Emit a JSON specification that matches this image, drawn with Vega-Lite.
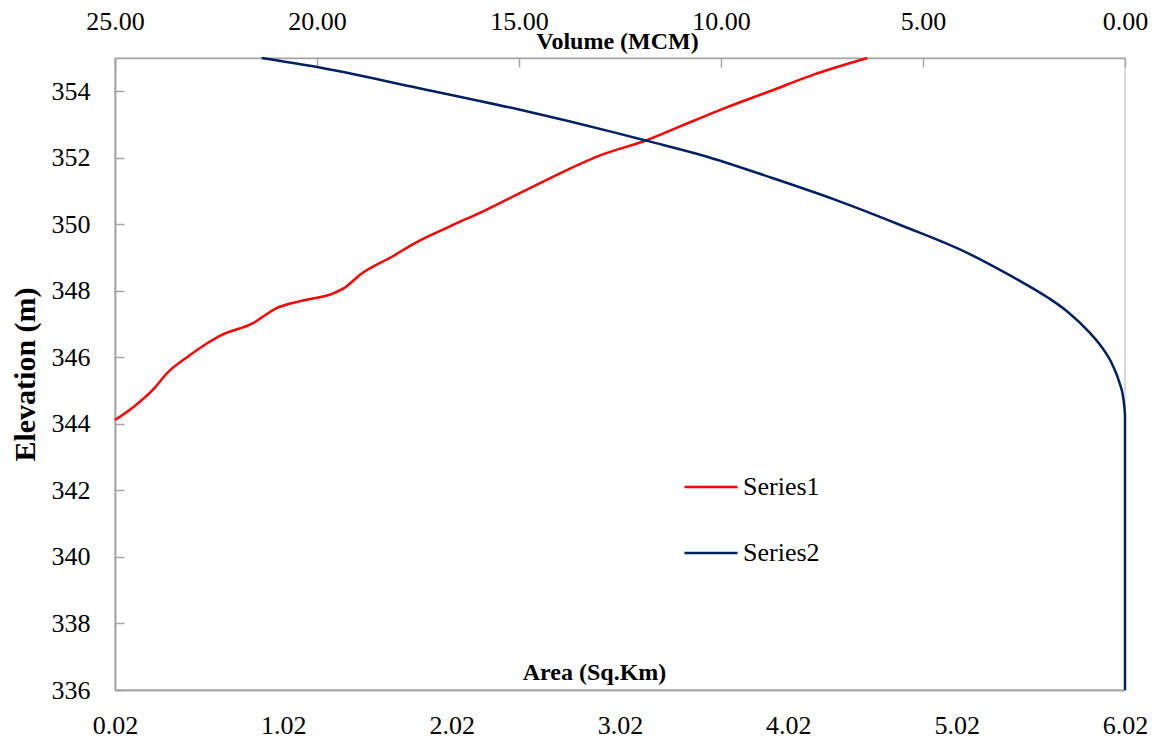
{
  "$schema": "https://vega.github.io/schema/vega-lite/v6.json",
  "autosize": {"type": "none"},
  "padding": {"left": 115, "top": 58, "right": 33, "bottom": 50},
  "width": 1010,
  "height": 632,
  "background": "white",
  "data": {
    "values": [
      {"series": "Series1", "elevation": 344.12, "value": 0.02},
      {"series": "Series1", "elevation": 344.51, "value": 0.13},
      {"series": "Series1", "elevation": 345.05, "value": 0.25},
      {"series": "Series1", "elevation": 345.53, "value": 0.33},
      {"series": "Series1", "elevation": 346.01, "value": 0.45},
      {"series": "Series1", "elevation": 346.43, "value": 0.57},
      {"series": "Series1", "elevation": 346.64, "value": 0.64},
      {"series": "Series1", "elevation": 347.03, "value": 0.84},
      {"series": "Series1", "elevation": 347.48, "value": 0.98},
      {"series": "Series1", "elevation": 347.69, "value": 1.12},
      {"series": "Series1", "elevation": 347.93, "value": 1.32},
      {"series": "Series1", "elevation": 348.08, "value": 1.38},
      {"series": "Series1", "elevation": 348.5, "value": 1.48},
      {"series": "Series1", "elevation": 349.04, "value": 1.67},
      {"series": "Series1", "elevation": 349.46, "value": 1.81},
      {"series": "Series1", "elevation": 349.94, "value": 2.01},
      {"series": "Series1", "elevation": 350.4, "value": 2.21},
      {"series": "Series1", "elevation": 350.95, "value": 2.43},
      {"series": "Series1", "elevation": 351.45, "value": 2.63},
      {"series": "Series1", "elevation": 352.05, "value": 2.89},
      {"series": "Series1", "elevation": 352.55, "value": 3.19},
      {"series": "Series1", "elevation": 352.95, "value": 3.38},
      {"series": "Series1", "elevation": 353.45, "value": 3.62},
      {"series": "Series1", "elevation": 354.0, "value": 3.91},
      {"series": "Series1", "elevation": 354.5, "value": 4.17},
      {"series": "Series1", "elevation": 355.0, "value": 4.49},
      {"series": "Series2", "elevation": 336.0, "value": 0},
      {"series": "Series2", "elevation": 344.25, "value": 0},
      {"series": "Series2", "elevation": 344.75, "value": 0.04},
      {"series": "Series2", "elevation": 345.25, "value": 0.14},
      {"series": "Series2", "elevation": 345.75, "value": 0.3},
      {"series": "Series2", "elevation": 346.35, "value": 0.6},
      {"series": "Series2", "elevation": 346.75, "value": 0.88},
      {"series": "Series2", "elevation": 347.35, "value": 1.4},
      {"series": "Series2", "elevation": 347.75, "value": 1.85},
      {"series": "Series2", "elevation": 348.05, "value": 2.25},
      {"series": "Series2", "elevation": 348.6, "value": 3.05},
      {"series": "Series2", "elevation": 349.15, "value": 3.92},
      {"series": "Series2", "elevation": 349.95, "value": 5.5},
      {"series": "Series2", "elevation": 350.75, "value": 7.2},
      {"series": "Series2", "elevation": 351.4, "value": 8.75},
      {"series": "Series2", "elevation": 352.07, "value": 10.45},
      {"series": "Series2", "elevation": 352.5, "value": 11.8},
      {"series": "Series2", "elevation": 352.75, "value": 12.6},
      {"series": "Series2", "elevation": 353.45, "value": 15.0},
      {"series": "Series2", "elevation": 354.1, "value": 17.5},
      {"series": "Series2", "elevation": 354.75, "value": 20.1},
      {"series": "Series2", "elevation": 355.0, "value": 21.37}
    ]
  },
  "encoding": {
    "y": {
      "field": "elevation",
      "type": "quantitative",
      "scale": {"domain": [336, 355], "nice": false, "zero": false},
      "axis": {
        "title": "Elevation (m)",
        "values": [336, 338, 340, 342, 344, 346, 348, 350, 352, 354],
        "tickSize": -9,
        "labelPadding": 34,
        "labelFont": "Liberation Serif",
        "titleFontSize": 30,
        "titleX": -90,
        "titleBaseline": "middle",
        "titleAngle": -90
      }
    },
    "color": {
      "field": "series",
      "type": "nominal",
      "scale": {"domain": ["Series1", "Series2"], "range": ["#ff0000", "#002060"]},
      "legend": {
        "title": null,
        "orient": "none",
        "legendX": 568,
        "legendY": 401,
        "symbolType": "stroke",
        "symbolSize": 2809,
        "symbolStrokeWidth": 2.5,
        "labelFont": "Liberation Serif",
        "labelFontSize": 26,
        "labelColor": "black",
        "labelOffset": 4,
        "rowPadding": 25,
        "padding": 0
      }
    },
    "order": {"field": "elevation", "type": "quantitative"}
  },
  "layer": [
    {
      "transform": [{"filter": "datum.series === 'Series1'"}],
      "mark": {"type": "line", "interpolate": "monotone", "orient": "horizontal", "strokeWidth": 2.5},
      "encoding": {
        "x": {
          "field": "value",
          "type": "quantitative",
          "scale": {"domain": [0.02, 6.02], "nice": false, "zero": false},
          "axis": {
            "orient": "bottom",
            "title": "Area (Sq.Km)",
            "values": [0.02, 1.02, 2.02, 3.02, 4.02, 5.02, 6.02],
            "format": ".2f",
            "ticks": false,
            "labelPadding": 22,
            "labelFont": "Liberation Serif",
            "titleFontSize": 24,
            "titleX": 479,
            "titleY": -11,
            "titleAlign": "center",
            "titleBaseline": "alphabetic"
          }
        }
      }
    },
    {
      "transform": [{"filter": "datum.series === 'Series2'"}],
      "mark": {"type": "line", "interpolate": "monotone", "orient": "horizontal", "strokeWidth": 2.5},
      "encoding": {
        "x": {
          "field": "value",
          "type": "quantitative",
          "scale": {"domain": [0, 25], "reverse": true, "nice": false},
          "axis": {
            "orient": "top",
            "title": "Volume (MCM)",
            "values": [0, 5, 10, 15, 20, 25],
            "format": ".2f",
            "tickSize": -9,
            "labelPadding": 33,
            "labelFont": "Liberation Serif",
            "domainWidth": 1.5,
            "titleFontSize": 24,
            "titleX": 502,
            "titleY": -10,
            "titleAlign": "center",
            "titleBaseline": "alphabetic"
          }
        }
      }
    }
  ],
  "resolve": {"scale": {"x": "independent"}},
  "config": {
    "font": "Liberation Serif",
    "style": {"guide-label": {"font": "Liberation Serif"}, "guide-title": {"font": "Liberation Serif"}},
    "view": {"stroke": "#d9d9d9", "strokeWidth": 2},
    "axis": {
      "grid": false,
      "labelFont": "Liberation Serif",
      "titleFont": "Liberation Serif",
      "labelFontSize": 26,
      "labelColor": "black",
      "titleColor": "black",
      "titleFontWeight": "bold",
      "domainColor": "#a6a6a6",
      "domainWidth": 2,
      "tickColor": "#a6a6a6",
      "tickWidth": 1.5,
      "labelFlush": false,
      "labelOverlap": false
    }
  }
}
